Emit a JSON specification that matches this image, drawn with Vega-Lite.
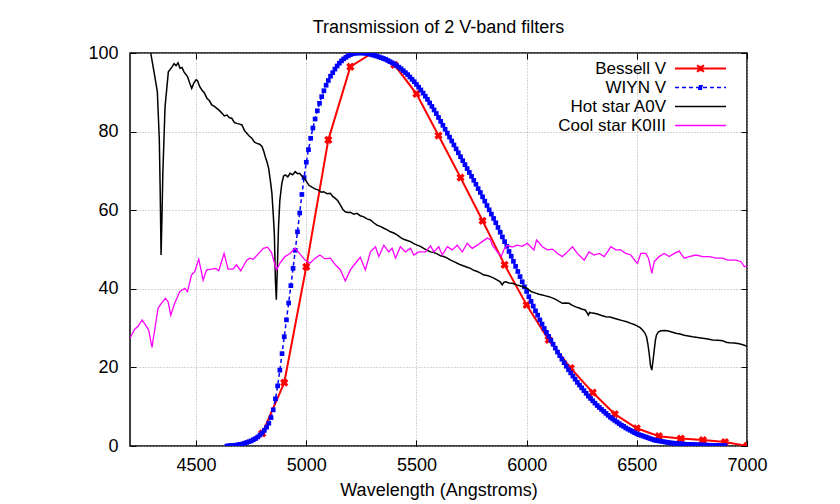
{
"$schema": "https://vega.github.io/schema/vega-lite/v6.json",
"width": 617, "height": 393,
"autosize": "none",
"padding": {"left": 130, "top": 53, "right": 93, "bottom": 58},
"background": "white",
"title": {"text": "Transmission of 2 V-band filters", "fontSize": 18, "font": "Liberation Sans", "fontWeight": "normal", "color": "black", "offset": 7},
"config": {"view": {"stroke": "black", "strokeWidth": 1.5}, "font": "Liberation Sans"},
"datasets": {
"bessell": [
{"wavelength":4700,"value":0},{"wavelength":4800,"value":3.2},{"wavelength":4900,"value":16.1},{"wavelength":5000,"value":45.6},{"wavelength":5100,"value":77.9},{"wavelength":5200,"value":96.5},{"wavelength":5300,"value":100},{"wavelength":5400,"value":97},{"wavelength":5500,"value":89.6},{"wavelength":5600,"value":79},{"wavelength":5700,"value":68.3},{"wavelength":5800,"value":57.3},{"wavelength":5900,"value":46.1},{"wavelength":6000,"value":35.9},{"wavelength":6100,"value":27},{"wavelength":6200,"value":19.8},{"wavelength":6300,"value":13.6},{"wavelength":6400,"value":8.1},{"wavelength":6500,"value":4.5},{"wavelength":6600,"value":2.5},{"wavelength":6700,"value":1.9},{"wavelength":6800,"value":1.5},{"wavelength":6900,"value":1.0},{"wavelength":7000,"value":0}
],
"wiyn": [
{"wavelength":4640,"value":0},{"wavelength":4650,"value":0.05},{"wavelength":4660,"value":0.1},{"wavelength":4670,"value":0.15},{"wavelength":4680,"value":0.2},{"wavelength":4690,"value":0.3},{"wavelength":4700,"value":0.4},{"wavelength":4710,"value":0.5},{"wavelength":4720,"value":0.7},{"wavelength":4730,"value":0.9},{"wavelength":4740,"value":1.1},{"wavelength":4750,"value":1.3},{"wavelength":4760,"value":1.6},{"wavelength":4770,"value":1.9},{"wavelength":4780,"value":2.3},{"wavelength":4790,"value":2.8},{"wavelength":4800,"value":3.3},{"wavelength":4810,"value":4.0},{"wavelength":4820,"value":4.8},{"wavelength":4830,"value":5.8},{"wavelength":4840,"value":7.2},{"wavelength":4850,"value":9.2},{"wavelength":4860,"value":12.0},{"wavelength":4870,"value":15.3},{"wavelength":4880,"value":19.3},{"wavelength":4890,"value":23.5},{"wavelength":4900,"value":27.8},{"wavelength":4910,"value":32.1},{"wavelength":4920,"value":36.4},{"wavelength":4930,"value":40.8},{"wavelength":4940,"value":45.2},{"wavelength":4950,"value":49.8},{"wavelength":4960,"value":54.5},{"wavelength":4970,"value":59.3},{"wavelength":4980,"value":64.0},{"wavelength":4990,"value":68.3},{"wavelength":5000,"value":72.2},{"wavelength":5010,"value":75.4},{"wavelength":5020,"value":78.3},{"wavelength":5030,"value":80.9},{"wavelength":5040,"value":83.2},{"wavelength":5050,"value":85.3},{"wavelength":5060,"value":87.2},{"wavelength":5070,"value":88.9},{"wavelength":5080,"value":90.4},{"wavelength":5090,"value":91.8},{"wavelength":5100,"value":93.0},{"wavelength":5110,"value":94.1},{"wavelength":5120,"value":95.0},{"wavelength":5130,"value":95.9},{"wavelength":5140,"value":96.7},{"wavelength":5150,"value":97.4},{"wavelength":5160,"value":98.0},{"wavelength":5170,"value":98.5},{"wavelength":5180,"value":98.9},{"wavelength":5190,"value":99.3},{"wavelength":5200,"value":99.6},{"wavelength":5210,"value":99.8},{"wavelength":5220,"value":99.9},{"wavelength":5230,"value":100},{"wavelength":5240,"value":100},{"wavelength":5250,"value":100},{"wavelength":5260,"value":100},{"wavelength":5270,"value":99.9},{"wavelength":5280,"value":99.8},{"wavelength":5290,"value":99.7},{"wavelength":5300,"value":99.5},{"wavelength":5310,"value":99.4},{"wavelength":5320,"value":99.2},{"wavelength":5330,"value":99.0},{"wavelength":5340,"value":98.8},{"wavelength":5350,"value":98.6},{"wavelength":5360,"value":98.4},{"wavelength":5370,"value":98.1},{"wavelength":5380,"value":97.8},{"wavelength":5390,"value":97.5},{"wavelength":5400,"value":97.2},{"wavelength":5410,"value":96.8},{"wavelength":5420,"value":96.4},{"wavelength":5430,"value":96.0},{"wavelength":5440,"value":95.5},{"wavelength":5450,"value":95.0},{"wavelength":5460,"value":94.5},{"wavelength":5470,"value":93.9},{"wavelength":5480,"value":93.3},{"wavelength":5490,"value":92.7},{"wavelength":5500,"value":92.0},{"wavelength":5510,"value":91.3},{"wavelength":5520,"value":90.6},{"wavelength":5530,"value":89.8},{"wavelength":5540,"value":89.0},{"wavelength":5550,"value":88.2},{"wavelength":5560,"value":87.3},{"wavelength":5570,"value":86.4},{"wavelength":5580,"value":85.5},{"wavelength":5590,"value":84.6},{"wavelength":5600,"value":83.6},{"wavelength":5610,"value":82.6},{"wavelength":5620,"value":81.6},{"wavelength":5630,"value":80.6},{"wavelength":5640,"value":79.6},{"wavelength":5650,"value":78.6},{"wavelength":5660,"value":77.6},{"wavelength":5670,"value":76.6},{"wavelength":5680,"value":75.6},{"wavelength":5690,"value":74.6},{"wavelength":5700,"value":73.6},{"wavelength":5710,"value":72.6},{"wavelength":5720,"value":71.6},{"wavelength":5730,"value":70.6},{"wavelength":5740,"value":69.6},{"wavelength":5750,"value":68.6},{"wavelength":5760,"value":67.6},{"wavelength":5770,"value":66.6},{"wavelength":5780,"value":65.5},{"wavelength":5790,"value":64.5},{"wavelength":5800,"value":63.4},{"wavelength":5810,"value":62.3},{"wavelength":5820,"value":61.2},{"wavelength":5830,"value":60.1},{"wavelength":5840,"value":59.0},{"wavelength":5850,"value":57.9},{"wavelength":5860,"value":56.8},{"wavelength":5870,"value":55.6},{"wavelength":5880,"value":54.4},{"wavelength":5890,"value":53.2},{"wavelength":5900,"value":52.0},{"wavelength":5910,"value":50.8},{"wavelength":5920,"value":49.5},{"wavelength":5930,"value":48.3},{"wavelength":5940,"value":47.0},{"wavelength":5950,"value":45.7},{"wavelength":5960,"value":44.4},{"wavelength":5970,"value":43.1},{"wavelength":5980,"value":41.8},{"wavelength":5990,"value":40.5},{"wavelength":6000,"value":39.3},{"wavelength":6010,"value":38.0},{"wavelength":6020,"value":36.8},{"wavelength":6030,"value":35.6},{"wavelength":6040,"value":34.4},{"wavelength":6050,"value":33.3},{"wavelength":6060,"value":32.1},{"wavelength":6070,"value":31.0},{"wavelength":6080,"value":29.9},{"wavelength":6090,"value":28.9},{"wavelength":6100,"value":27.9},{"wavelength":6110,"value":26.9},{"wavelength":6120,"value":25.9},{"wavelength":6130,"value":24.9},{"wavelength":6140,"value":23.9},{"wavelength":6150,"value":23.0},{"wavelength":6160,"value":22.1},{"wavelength":6170,"value":21.2},{"wavelength":6180,"value":20.3},{"wavelength":6190,"value":19.4},{"wavelength":6200,"value":18.6},{"wavelength":6210,"value":17.8},{"wavelength":6220,"value":17.0},{"wavelength":6230,"value":16.2},{"wavelength":6240,"value":15.5},{"wavelength":6250,"value":14.8},{"wavelength":6260,"value":14.1},{"wavelength":6270,"value":13.4},{"wavelength":6280,"value":12.7},{"wavelength":6290,"value":12.1},{"wavelength":6300,"value":11.5},{"wavelength":6310,"value":10.9},{"wavelength":6320,"value":10.3},{"wavelength":6330,"value":9.8},{"wavelength":6340,"value":9.3},{"wavelength":6350,"value":8.8},{"wavelength":6360,"value":8.3},{"wavelength":6370,"value":7.8},{"wavelength":6380,"value":7.3},{"wavelength":6390,"value":6.9},{"wavelength":6400,"value":6.5},{"wavelength":6410,"value":6.1},{"wavelength":6420,"value":5.7},{"wavelength":6430,"value":5.3},{"wavelength":6440,"value":5.0},{"wavelength":6450,"value":4.6},{"wavelength":6460,"value":4.3},{"wavelength":6470,"value":4.0},{"wavelength":6480,"value":3.7},{"wavelength":6490,"value":3.4},{"wavelength":6500,"value":3.1},{"wavelength":6510,"value":2.9},{"wavelength":6520,"value":2.7},{"wavelength":6530,"value":2.5},{"wavelength":6540,"value":2.3},{"wavelength":6550,"value":2.1},{"wavelength":6560,"value":1.9},{"wavelength":6570,"value":1.7},{"wavelength":6580,"value":1.5},{"wavelength":6590,"value":1.4},{"wavelength":6600,"value":1.3},{"wavelength":6610,"value":1.2},{"wavelength":6620,"value":1.1},{"wavelength":6630,"value":1.0},{"wavelength":6640,"value":0.9},{"wavelength":6650,"value":0.8},{"wavelength":6660,"value":0.75},{"wavelength":6670,"value":0.7},{"wavelength":6680,"value":0.65},{"wavelength":6690,"value":0.6},{"wavelength":6700,"value":0.55},{"wavelength":6710,"value":0.5},{"wavelength":6720,"value":0.45},{"wavelength":6730,"value":0.42},{"wavelength":6740,"value":0.4},{"wavelength":6750,"value":0.37},{"wavelength":6760,"value":0.35},{"wavelength":6770,"value":0.32},{"wavelength":6780,"value":0.3},{"wavelength":6790,"value":0.28},{"wavelength":6800,"value":0.25},{"wavelength":6810,"value":0.23},{"wavelength":6820,"value":0.21},{"wavelength":6830,"value":0.19},{"wavelength":6840,"value":0.17},{"wavelength":6850,"value":0.15},{"wavelength":6860,"value":0.13},{"wavelength":6870,"value":0.12},{"wavelength":6880,"value":0.11},{"wavelength":6890,"value":0.1},{"wavelength":6900,"value":0.1}
],
"hot": [
{"wavelength":4200,"value":125},{"wavelength":4250,"value":115},{"wavelength":4280,"value":106},{"wavelength":4294,"value":100},{"wavelength":4309,"value":95.2},{"wavelength":4324,"value":90.2},{"wavelength":4333,"value":78},{"wavelength":4337,"value":65},{"wavelength":4341,"value":48.6},{"wavelength":4345,"value":58},{"wavelength":4349,"value":69.4},{"wavelength":4359,"value":86.3},{"wavelength":4374,"value":95.2},{"wavelength":4390,"value":96.4},{"wavelength":4400,"value":97.3},{"wavelength":4409,"value":96.8},{"wavelength":4418,"value":97.5},{"wavelength":4427,"value":96.1},{"wavelength":4436,"value":96.3},{"wavelength":4445,"value":95.2},{"wavelength":4461,"value":94},{"wavelength":4470,"value":92.5},{"wavelength":4480,"value":91},{"wavelength":4490,"value":92.4},{"wavelength":4500,"value":93.2},{"wavelength":4506,"value":93},{"wavelength":4516,"value":91.5},{"wavelength":4526,"value":90.6},{"wavelength":4537,"value":89.9},{"wavelength":4549,"value":88.5},{"wavelength":4560,"value":87.9},{"wavelength":4571,"value":86.8},{"wavelength":4583,"value":86.4},{"wavelength":4594,"value":85.9},{"wavelength":4605,"value":85.4},{"wavelength":4617,"value":84.7},{"wavelength":4628,"value":84.0},{"wavelength":4640,"value":84.2},{"wavelength":4651,"value":83.5},{"wavelength":4662,"value":83.4},{"wavelength":4674,"value":82.3},{"wavelength":4685,"value":82.1},{"wavelength":4697,"value":81.9},{"wavelength":4708,"value":81.7},{"wavelength":4719,"value":80.3},{"wavelength":4730,"value":79.6},{"wavelength":4742,"value":78.8},{"wavelength":4753,"value":78.3},{"wavelength":4765,"value":77.3},{"wavelength":4776,"value":77},{"wavelength":4788,"value":76.8},{"wavelength":4799,"value":76.2},{"wavelength":4807,"value":75.0},{"wavelength":4814,"value":73.6},{"wavelength":4822,"value":72.2},{"wavelength":4829,"value":70.7},{"wavelength":4837,"value":67.5},{"wavelength":4844,"value":64.3},{"wavelength":4850,"value":59},{"wavelength":4855,"value":54.1},{"wavelength":4860,"value":42},{"wavelength":4864,"value":37.2},{"wavelength":4868,"value":44},{"wavelength":4874,"value":55.8},{"wavelength":4880,"value":62.5},{"wavelength":4889,"value":66.8},{"wavelength":4897,"value":68.7},{"wavelength":4905,"value":69},{"wavelength":4916,"value":68.5},{"wavelength":4927,"value":69.4},{"wavelength":4938,"value":69},{"wavelength":4950,"value":69.8},{"wavelength":4960,"value":69.3},{"wavelength":4970,"value":69.4},{"wavelength":4980,"value":68.7},{"wavelength":4991,"value":68.1},{"wavelength":5000,"value":67.4},{"wavelength":5011,"value":66.4},{"wavelength":5022,"value":66.0},{"wavelength":5033,"value":65.6},{"wavelength":5045,"value":65.3},{"wavelength":5056,"value":65.1},{"wavelength":5068,"value":64.6},{"wavelength":5079,"value":64.7},{"wavelength":5094,"value":64.2},{"wavelength":5109,"value":64.3},{"wavelength":5120,"value":63.5},{"wavelength":5132,"value":63},{"wavelength":5143,"value":62.4},{"wavelength":5155,"value":61.3},{"wavelength":5166,"value":60.2},{"wavelength":5177,"value":59.6},{"wavelength":5188,"value":59.4},{"wavelength":5200,"value":59.5},{"wavelength":5215,"value":59.0},{"wavelength":5230,"value":59.2},{"wavelength":5245,"value":58.6},{"wavelength":5261,"value":58.3},{"wavelength":5276,"value":57.8},{"wavelength":5291,"value":57.5},{"wavelength":5306,"value":56.8},{"wavelength":5321,"value":56.2},{"wavelength":5336,"value":55.9},{"wavelength":5352,"value":55.4},{"wavelength":5367,"value":55.0},{"wavelength":5382,"value":54.5},{"wavelength":5397,"value":54.2},{"wavelength":5412,"value":53.7},{"wavelength":5427,"value":53.1},{"wavelength":5442,"value":52.6},{"wavelength":5458,"value":52.3},{"wavelength":5473,"value":52},{"wavelength":5488,"value":51.5},{"wavelength":5503,"value":51.1},{"wavelength":5518,"value":50.8},{"wavelength":5533,"value":50.3},{"wavelength":5548,"value":49.8},{"wavelength":5564,"value":49.4},{"wavelength":5579,"value":49.2},{"wavelength":5594,"value":48.9},{"wavelength":5609,"value":48.4},{"wavelength":5624,"value":48.2},{"wavelength":5640,"value":47.8},{"wavelength":5655,"value":47.3},{"wavelength":5670,"value":46.9},{"wavelength":5685,"value":46.5},{"wavelength":5700,"value":46.1},{"wavelength":5715,"value":45.8},{"wavelength":5730,"value":45.5},{"wavelength":5745,"value":45.2},{"wavelength":5760,"value":44.7},{"wavelength":5776,"value":44.4},{"wavelength":5791,"value":44.0},{"wavelength":5806,"value":43.5},{"wavelength":5821,"value":43.4},{"wavelength":5836,"value":43.1},{"wavelength":5851,"value":42.7},{"wavelength":5867,"value":42.2},{"wavelength":5880,"value":41.8},{"wavelength":5889,"value":41.0},{"wavelength":5897,"value":41.7},{"wavelength":5905,"value":41.8},{"wavelength":5920,"value":41.5},{"wavelength":5935,"value":41.4},{"wavelength":5955,"value":41.0},{"wavelength":5973,"value":40.7},{"wavelength":5988,"value":40.4},{"wavelength":6003,"value":40.1},{"wavelength":6020,"value":39.3},{"wavelength":6041,"value":38.9},{"wavelength":6056,"value":38.6},{"wavelength":6071,"value":38.4},{"wavelength":6086,"value":38.2},{"wavelength":6101,"value":38},{"wavelength":6116,"value":37.7},{"wavelength":6132,"value":37.3},{"wavelength":6147,"value":36.8},{"wavelength":6162,"value":36.3},{"wavelength":6177,"value":36.4},{"wavelength":6192,"value":36.3},{"wavelength":6208,"value":35.8},{"wavelength":6223,"value":35.4},{"wavelength":6238,"value":35.1},{"wavelength":6253,"value":34.8},{"wavelength":6266,"value":34.6},{"wavelength":6273,"value":34.0},{"wavelength":6280,"value":33.3},{"wavelength":6286,"value":34.0},{"wavelength":6291,"value":33.9},{"wavelength":6306,"value":33.8},{"wavelength":6321,"value":33.6},{"wavelength":6340,"value":33.2},{"wavelength":6359,"value":32.9},{"wavelength":6378,"value":32.8},{"wavelength":6397,"value":32.5},{"wavelength":6416,"value":32.2},{"wavelength":6435,"value":31.9},{"wavelength":6454,"value":31.6},{"wavelength":6473,"value":31.2},{"wavelength":6488,"value":30.9},{"wavelength":6503,"value":30.5},{"wavelength":6515,"value":30.1},{"wavelength":6526,"value":29.5},{"wavelength":6536,"value":28.8},{"wavelength":6544,"value":27.8},{"wavelength":6550,"value":26.0},{"wavelength":6556,"value":23.6},{"wavelength":6562,"value":20.5},{"wavelength":6568,"value":19.3},{"wavelength":6573,"value":21.5},{"wavelength":6579,"value":24.4},{"wavelength":6584,"value":26.8},{"wavelength":6589,"value":28.2},{"wavelength":6597,"value":29.0},{"wavelength":6609,"value":29.3},{"wavelength":6624,"value":29.4},{"wavelength":6639,"value":29.3},{"wavelength":6658,"value":29.0},{"wavelength":6677,"value":28.7},{"wavelength":6696,"value":28.5},{"wavelength":6715,"value":28.2},{"wavelength":6734,"value":28.0},{"wavelength":6753,"value":27.8},{"wavelength":6776,"value":27.6},{"wavelength":6799,"value":27.4},{"wavelength":6822,"value":27.2},{"wavelength":6844,"value":27},{"wavelength":6867,"value":26.9},{"wavelength":6890,"value":26.8},{"wavelength":6905,"value":26.4},{"wavelength":6920,"value":26.3},{"wavelength":6942,"value":26.2},{"wavelength":6965,"value":26},{"wavelength":6985,"value":25.7},{"wavelength":7000,"value":25.4}
],
"cool": [
{"wavelength":4200,"value":27.4},{"wavelength":4221,"value":29.7},{"wavelength":4236,"value":30.4},{"wavelength":4255,"value":32.1},{"wavelength":4270,"value":30.8},{"wavelength":4285,"value":29.5},{"wavelength":4293,"value":27},{"wavelength":4300,"value":25.1},{"wavelength":4306,"value":27.5},{"wavelength":4312,"value":29.5},{"wavelength":4327,"value":35},{"wavelength":4342,"value":36.3},{"wavelength":4361,"value":37.6},{"wavelength":4373,"value":36.7},{"wavelength":4385,"value":33.3},{"wavelength":4403,"value":36.3},{"wavelength":4426,"value":39.3},{"wavelength":4449,"value":40.1},{"wavelength":4461,"value":39.3},{"wavelength":4479,"value":43.5},{"wavelength":4494,"value":44.4},{"wavelength":4512,"value":47.5},{"wavelength":4532,"value":42.2},{"wavelength":4547,"value":44.8},{"wavelength":4570,"value":45},{"wavelength":4588,"value":45.2},{"wavelength":4603,"value":44.6},{"wavelength":4627,"value":49},{"wavelength":4645,"value":45},{"wavelength":4668,"value":45},{"wavelength":4683,"value":46.1},{"wavelength":4703,"value":44.6},{"wavelength":4729,"value":47.2},{"wavelength":4744,"value":47.8},{"wavelength":4759,"value":47.5},{"wavelength":4782,"value":48.9},{"wavelength":4805,"value":50.3},{"wavelength":4824,"value":50.6},{"wavelength":4842,"value":49.2},{"wavelength":4865,"value":44.8},{"wavelength":4880,"value":46.5},{"wavelength":4903,"value":48.2},{"wavelength":4926,"value":49},{"wavelength":4949,"value":50.3},{"wavelength":4971,"value":48.9},{"wavelength":4994,"value":47.3},{"wavelength":5017,"value":46.5},{"wavelength":5040,"value":47.8},{"wavelength":5062,"value":48.6},{"wavelength":5085,"value":47.6},{"wavelength":5109,"value":47.8},{"wavelength":5132,"value":46.1},{"wavelength":5155,"value":44.8},{"wavelength":5177,"value":42},{"wavelength":5200,"value":44.8},{"wavelength":5223,"value":46.5},{"wavelength":5245,"value":48},{"wavelength":5268,"value":44.8},{"wavelength":5291,"value":49.4},{"wavelength":5314,"value":50.7},{"wavelength":5329,"value":48.2},{"wavelength":5352,"value":51.1},{"wavelength":5374,"value":49.4},{"wavelength":5389,"value":50.3},{"wavelength":5405,"value":47.8},{"wavelength":5427,"value":50.7},{"wavelength":5450,"value":49.4},{"wavelength":5473,"value":50.3},{"wavelength":5488,"value":48.6},{"wavelength":5510,"value":49.4},{"wavelength":5541,"value":49.4},{"wavelength":5564,"value":50.9},{"wavelength":5579,"value":49.4},{"wavelength":5601,"value":50.7},{"wavelength":5617,"value":48.6},{"wavelength":5640,"value":50.7},{"wavelength":5662,"value":49.9},{"wavelength":5685,"value":51.1},{"wavelength":5708,"value":49.4},{"wavelength":5730,"value":51.6},{"wavelength":5753,"value":50.3},{"wavelength":5776,"value":51.1},{"wavelength":5798,"value":52},{"wavelength":5821,"value":52.9},{"wavelength":5836,"value":52.5},{"wavelength":5844,"value":51.1},{"wavelength":5867,"value":49.4},{"wavelength":5885,"value":48.3},{"wavelength":5897,"value":50},{"wavelength":5912,"value":51.1},{"wavelength":5935,"value":50.6},{"wavelength":5957,"value":51.1},{"wavelength":5980,"value":50.8},{"wavelength":6003,"value":51.6},{"wavelength":6033,"value":49.9},{"wavelength":6045,"value":52.4},{"wavelength":6056,"value":51.8},{"wavelength":6071,"value":50.7},{"wavelength":6094,"value":49.9},{"wavelength":6117,"value":50.1},{"wavelength":6140,"value":49},{"wavelength":6162,"value":48.2},{"wavelength":6185,"value":49.4},{"wavelength":6208,"value":50.7},{"wavelength":6230,"value":49},{"wavelength":6261,"value":47.3},{"wavelength":6283,"value":49.4},{"wavelength":6306,"value":48.6},{"wavelength":6329,"value":49},{"wavelength":6352,"value":48.2},{"wavelength":6367,"value":49.4},{"wavelength":6382,"value":50.7},{"wavelength":6405,"value":49.9},{"wavelength":6427,"value":49.9},{"wavelength":6450,"value":49},{"wavelength":6473,"value":48.6},{"wavelength":6495,"value":46.9},{"wavelength":6503,"value":46.5},{"wavelength":6518,"value":49},{"wavelength":6541,"value":49},{"wavelength":6553,"value":47.8},{"wavelength":6562,"value":45.5},{"wavelength":6568,"value":43.9},{"wavelength":6579,"value":46.9},{"wavelength":6601,"value":48.2},{"wavelength":6624,"value":49},{"wavelength":6647,"value":48.2},{"wavelength":6670,"value":49},{"wavelength":6692,"value":49.6},{"wavelength":6715,"value":47.8},{"wavelength":6738,"value":48.2},{"wavelength":6768,"value":48.6},{"wavelength":6799,"value":48.2},{"wavelength":6829,"value":48.2},{"wavelength":6859,"value":47.8},{"wavelength":6890,"value":47.8},{"wavelength":6912,"value":47.3},{"wavelength":6950,"value":47.3},{"wavelength":6973,"value":46.9},{"wavelength":6988,"value":45.6},{"wavelength":7000,"value":45.9}
]
},
"resolve": {"axis": {"x": "independent", "y": "independent"}},
"layer": [
{
"data": {"name": "bessell"},
"transform": [{"calculate": "'Bessell V'", "as": "series"}],
"mark": {"type": "line", "strokeWidth": 2, "clip": true, "point": {"shape": "cross", "angle": 45, "size": 70, "filled": true, "opacity": 1}},
"encoding": {
"x": {"field": "wavelength", "type": "quantitative", "scale": {"domain": [4200, 7000], "nice": false, "zero": false},
"axis": {"values": [4500, 5000, 5500, 6000, 6500, 7000], "format": "d", "title": "Wavelength (Angstroms)", "titleFontSize": 18, "titleFont": "Liberation Sans", "titleFontWeight": "normal", "titleColor": "black", "titlePadding": 7, "labelFontSize": 18, "labelFont": "Liberation Sans", "labelColor": "black", "labelPadding": 16, "tickSize": -6, "tickColor": "black", "domain": false, "grid": true, "gridColor": "#aaaaaa", "gridDash": [1, 2], "labelFlush": false, "labelOverlap": false}},
"y": {"field": "value", "type": "quantitative", "scale": {"domain": [0, 100], "nice": false},
"axis": {"values": [0, 20, 40, 60, 80, 100], "title": null, "labelFontSize": 18, "labelFont": "Liberation Sans", "labelColor": "black", "labelPadding": 18, "tickSize": -6, "tickColor": "black", "domain": false, "grid": true, "gridColor": "#aaaaaa", "gridDash": [1, 2], "labelFlush": false, "labelOverlap": false}},
"color": {"field": "series", "type": "nominal",
"scale": {"domain": ["Bessell V", "WIYN V", "Hot star A0V", "Cool star K0III"], "range": ["#ff0000", "#0000ff", "#000000", "#ff00ff"]},
"legend": {"title": null, "orient": "none", "legendX": 562, "legendY": 7, "padding": 0, "labelAlign": "right", "labelOffset": -43, "labelFontSize": 17, "labelFont": "Liberation Sans", "labelColor": "black", "symbolSize": 289, "rowPadding": 1, "symbolStrokeWidth": 2, "symbolType": "M-3,0H3",
"encode": {"symbols": {"update": {
"shape": {"signal": "datum.value === 'Bessell V' ? 'M-3,0H3M-0.4,-0.4L0.4,0.4M-0.4,0.4L0.4,-0.4M-0.22,-0.22H0.22V0.22H-0.22Z' : (datum.value === 'WIYN V' ? 'M-3,0H3M-0.2,-0.2H0.2V0.2H-0.2Z' : 'M-3,0H3')"},
"strokeDash": {"signal": "datum.value === 'WIYN V' ? [4, 3] : [1, 0]"},
"strokeWidth": {"signal": "datum.value === 'Bessell V' ? 2 : 1.5"},
"fill": {"scale": "color", "field": "value"},
"stroke": {"scale": "color", "field": "value"},
"opacity": {"value": 1}
}}}}
}
}
},
{
"data": {"name": "wiyn"},
"transform": [{"calculate": "'WIYN V'", "as": "series"}],
"mark": {"type": "line", "strokeWidth": 1.5, "strokeDash": [4, 3], "clip": true, "point": {"shape": "square", "size": 22, "filled": true, "opacity": 1}},
"encoding": {
"x": {"field": "wavelength", "type": "quantitative", "axis": {"orient": "top", "values": [4500, 5000, 5500, 6000, 6500, 7000], "labels": false, "domain": false, "grid": false, "tickSize": -6, "tickColor": "black", "title": null}},
"y": {"field": "value", "type": "quantitative", "axis": {"orient": "right", "values": [0, 20, 40, 60, 80, 100], "labels": false, "domain": false, "grid": false, "tickSize": -6, "tickColor": "black", "title": null}},
"color": {"field": "series", "type": "nominal"}
}
},
{
"data": {"name": "hot"},
"transform": [{"calculate": "'Hot star A0V'", "as": "series"}],
"mark": {"type": "line", "strokeWidth": 1.5, "clip": true},
"encoding": {
"x": {"field": "wavelength", "type": "quantitative", "axis": null},
"y": {"field": "value", "type": "quantitative", "axis": null},
"color": {"field": "series", "type": "nominal"}
}
},
{
"data": {"name": "cool"},
"transform": [{"calculate": "'Cool star K0III'", "as": "series"}],
"mark": {"type": "line", "strokeWidth": 1.3, "clip": true},
"encoding": {
"x": {"field": "wavelength", "type": "quantitative", "axis": null},
"y": {"field": "value", "type": "quantitative", "axis": null},
"color": {"field": "series", "type": "nominal"}
}
}
]
}
